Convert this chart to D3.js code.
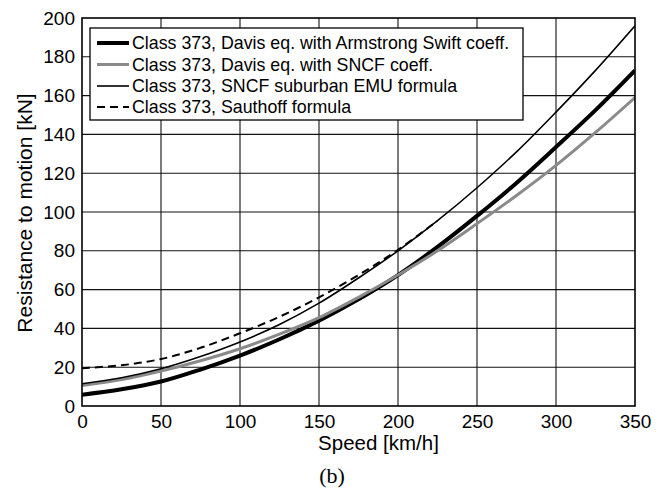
<!DOCTYPE html>
<html><head><meta charset="utf-8">
<script src="https://cdn.jsdelivr.net/npm/d3@7"></script>
<style>
html,body{margin:0;padding:0;background:#fff;}
svg{display:block;font-family:"Liberation Sans",Arial,sans-serif;}
</style></head>
<body>
<svg id="chart" width="671" height="491"></svg>
<script>
const speed = [0,25,50,75,100,125,150,175,200,225,250,275,300,325,350];
const davisArmstrong = [5.8,8.6,12.6,18.8,26,34.4,44,55,67.5,82,98,115,133.5,152.5,173];
const davisSNCF = [10.5,13.6,18,23.3,29.5,37,45.5,56,67.5,80,94,108.5,124,141,159];
const sncfSuburban = [11.5,14.6,19.2,25.5,33,42,53,66,80,95.5,112.5,131,151.5,173,196];
const sauthoffSpeed = [0,25,50,75,100,125,150,175,200,225];
const sauthoff = [19.5,21,24.2,30,37.5,46,56,67.5,80.5,95.5];
const xTicks = [0,50,100,150,200,250,300,350];
const yTicks = [0,20,40,60,80,100,120,140,160,180,200];
const seriesNames = [
  "Class 373, Davis eq. with Armstrong Swift coeff.",
  "Class 373, Davis eq. with SNCF coeff.",
  "Class 373, SNCF suburban EMU formula",
  "Class 373, Sauthoff formula"
];

const svg = d3.select("#chart");
const L = 82, R = 635, T = 18, B = 406;
const x = d3.scaleLinear().domain([0,350]).range([L,R]);
const y = d3.scaleLinear().domain([0,200]).range([B,T]);

// grid
svg.append("g").selectAll("line").data(xTicks.slice(1,-1)).join("line")
  .attr("x1",d=>x(d)).attr("x2",d=>x(d)).attr("y1",T).attr("y2",B)
  .attr("stroke","#111").attr("stroke-width",1.1);
svg.append("g").selectAll("line").data(yTicks.slice(1,-1)).join("line")
  .attr("x1",L).attr("x2",R).attr("y1",d=>y(d)).attr("y2",d=>y(d))
  .attr("stroke","#111").attr("stroke-width",1.1);

// axes
const xAxis = svg.append("g").attr("transform",`translate(0,${B})`)
  .call(d3.axisBottom(x).tickValues(xTicks).tickSize(0).tickPadding(9));
const yAxis = svg.append("g").attr("transform",`translate(${L},0)`)
  .call(d3.axisLeft(y).tickValues(yTicks).tickSize(0).tickPadding(7));
[xAxis,yAxis].forEach(a=>{
  a.select(".domain").remove();
  a.selectAll("text").attr("font-size",19).attr("fill","#000")
    .attr("font-family",'"Liberation Sans",Arial,sans-serif');
});

// curves
const line = d3.line().x(d=>x(d[0])).y(d=>y(d[1])).curve(d3.curveCatmullRom);
const series = [
  {xs:speed, ys:davisArmstrong, stroke:"#000", w:4, dash:null},
  {xs:speed, ys:davisSNCF, stroke:"#8a8a8a", w:3, dash:null},
  {xs:speed, ys:sncfSuburban, stroke:"#000", w:1.6, dash:null},
  {xs:sauthoffSpeed, ys:sauthoff, stroke:"#000", w:2, dash:"8,5"}
];
svg.append("clipPath").attr("id","clip").append("rect")
  .attr("x",L).attr("y",T).attr("width",R-L).attr("height",B-T);
const plot = svg.append("g").attr("clip-path","url(#clip)");
series.forEach(s=>{
  plot.append("path").datum(s.xs.map((v,i)=>[v,s.ys[i]]))
    .attr("d",line).attr("fill","none").attr("stroke",s.stroke)
    .attr("stroke-width",s.w).attr("stroke-dasharray",s.dash);
});

// frame
svg.append("rect").attr("x",L).attr("y",T).attr("width",R-L).attr("height",B-T)
  .attr("fill","none").attr("stroke","#000").attr("stroke-width",1.6);

// legend
const lg = svg.append("g");
lg.append("rect").attr("x",90).attr("y",28).attr("width",433).attr("height",92)
  .attr("fill","#fff").attr("stroke","#000").attr("stroke-width",1.3);
const rowY = [43,64.5,86,107];
series.forEach((s,i)=>{
  lg.append("line").attr("x1",97).attr("x2",129).attr("y1",rowY[i]).attr("y2",rowY[i])
    .attr("stroke",s.stroke).attr("stroke-width",s.w).attr("stroke-dasharray",s.dash);
  lg.append("text").attr("x",132).attr("y",rowY[i]).attr("dy","0.35em")
    .attr("font-size",17.8).text(seriesNames[i]);
});

// labels
svg.append("text").attr("x",378.5).attr("y",443).attr("dy","0.35em")
  .attr("text-anchor","middle").attr("font-size",20.5).text("Speed [km/h]");
svg.append("text").attr("transform","translate(25,213) rotate(-90)")
  .attr("dy","0.35em").attr("text-anchor","middle").attr("font-size",21)
  .text("Resistance to motion [kN]");
svg.append("text").attr("x",332).attr("y",475).attr("dy","0.35em")
  .attr("text-anchor","middle").attr("font-size",22)
  .attr("font-family",'"Liberation Serif","Times New Roman",serif').text("(b)");
</script>
</body></html>
